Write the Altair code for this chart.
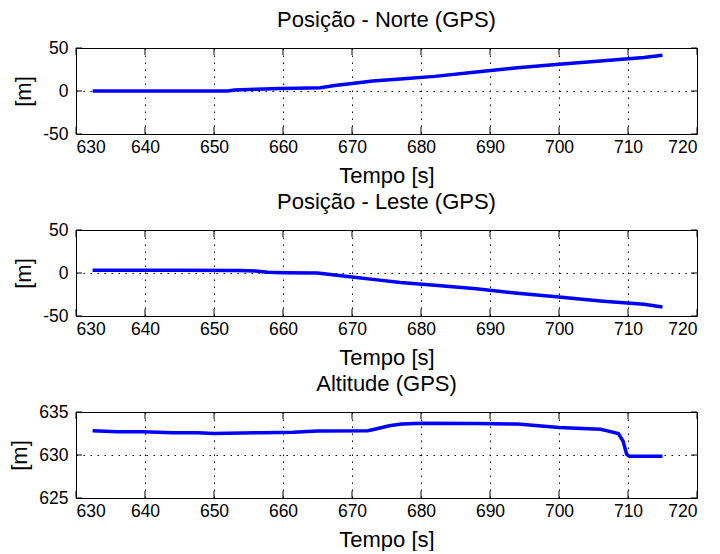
import altair as alt
import pandas as pd

# ---- data ----
t_norte = [632.4, 640, 652, 653, 656, 659.6, 662, 665.4, 667.5, 670, 673, 677, 682, 688, 694, 700, 706, 712.3, 715]
v_norte = [0, 0, 0, 1.2, 2, 3, 3.3, 3.8, 6.5, 8.8, 11.5, 14, 17, 22, 27, 31, 35, 39, 41.5]

t_leste = [632.4, 645, 653.6, 656, 657.8, 660, 665, 667.5, 670, 673, 677, 682, 688, 694, 700, 706, 712.3, 715]
v_leste = [3.1, 3.1, 3.0, 2.3, 0.8, 0.3, 0, -2.3, -4.6, -7.4, -11, -14.3, -18.2, -23.6, -28, -32.6, -36.4, -39.5]

t_alt = [632.4, 636, 639.7, 644, 647.6, 650, 657, 661.5, 665, 672.3, 673.6, 675.4, 677.2, 680.2,
         688, 694, 697, 700, 706, 707, 708.6, 709.3, 709.8, 710.2, 715]
v_alt = [632.82, 632.7, 632.7, 632.6, 632.6, 632.5, 632.6, 632.65, 632.8, 632.82, 633.06, 633.4, 633.6, 633.7,
         633.65, 633.6, 633.4, 633.2, 633.0, 632.8, 632.5, 631.6, 630.1, 629.85, 629.85]

x_ticks = [630, 640, 650, 660, 670, 680, 690, 700, 710, 720]
y_ticks_pos = [-50, 0, 50]
y_ticks_alt = [625, 630, 635]

titles = ["Posição - Norte (GPS)", "Posição - Leste (GPS)", "Altitude (GPS)"]
x_title = "Tempo [s]"
y_title = "[m]"

W, H = 621, 86
FONT = "Liberation Sans"
TL = 7


def panel(t, v, yticks, title):
    df = pd.DataFrame({"t": t, "v": v})
    xs = alt.Scale(domain=[x_ticks[0], x_ticks[-1]], nice=False, zero=False)
    ys = alt.Scale(domain=[yticks[0], yticks[-1]], nice=False, zero=False)
    xax = alt.Axis(values=x_ticks, labelExpr="datum.value + ''")
    yax = alt.Axis(values=yticks, labelExpr="datum.value + ''")
    xt = pd.DataFrame({"t": x_ticks})
    yt = pd.DataFrame({"v": yticks})

    def X(f):
        return alt.X(f, scale=xs, title=x_title, axis=xax)

    def Y(f):
        return alt.Y(f, scale=ys, title=y_title, axis=yax)

    line = alt.Chart(df).mark_line(color="#0000FF", strokeWidth=3.5).encode(
        x=X("t:Q"), y=Y("v:Q"))
    top = alt.Chart(xt).mark_rule(color="black", strokeWidth=1).encode(
        x=X("t:Q"), y=alt.value(0), y2=alt.value(TL))
    bot = alt.Chart(xt).mark_rule(color="black", strokeWidth=1).encode(
        x=X("t:Q"), y=alt.value(H - TL), y2=alt.value(H))
    lft = alt.Chart(yt).mark_rule(color="black", strokeWidth=1).encode(
        y=Y("v:Q"), x=alt.value(0), x2=alt.value(TL - 1))
    rgt = alt.Chart(yt).mark_rule(color="black", strokeWidth=1).encode(
        y=Y("v:Q"), x=alt.value(W - TL + 1), x2=alt.value(W))

    return alt.layer(line, top, bot, lft, rgt).properties(
        width=W, height=H,
        title=alt.TitleParams(title, fontSize=22, fontWeight="normal", font=FONT,
                              color="black", offset=7, anchor="middle"),
    )


chart = alt.vconcat(
    panel(t_norte, v_norte, y_ticks_pos, titles[0]),
    panel(t_leste, v_leste, y_ticks_pos, titles[1]),
    panel(t_alt, v_alt, y_ticks_alt, titles[2]),
    spacing=3,
).configure_view(
    stroke="black", strokeWidth=1
).configure_axis(
    domain=False, ticks=False,
    labelFont=FONT, labelFontSize=17.5, labelColor="black",
    titleFont=FONT, titleFontSize=22, titleFontWeight="normal", titleColor="black",
    grid=True, gridColor="black", gridDash=[1.5, 5.5], gridOpacity=1, gridWidth=1,
).configure_axisX(
    titlePadding=10, labelPadding=4
).configure_axisY(
    titlePadding=7, labelPadding=8
).properties(
    padding={"left": 0, "top": 0, "right": 5, "bottom": 0}, background="white"
)

chart.save("out.html", embed_options={"renderer": "svg", "actions": False})
